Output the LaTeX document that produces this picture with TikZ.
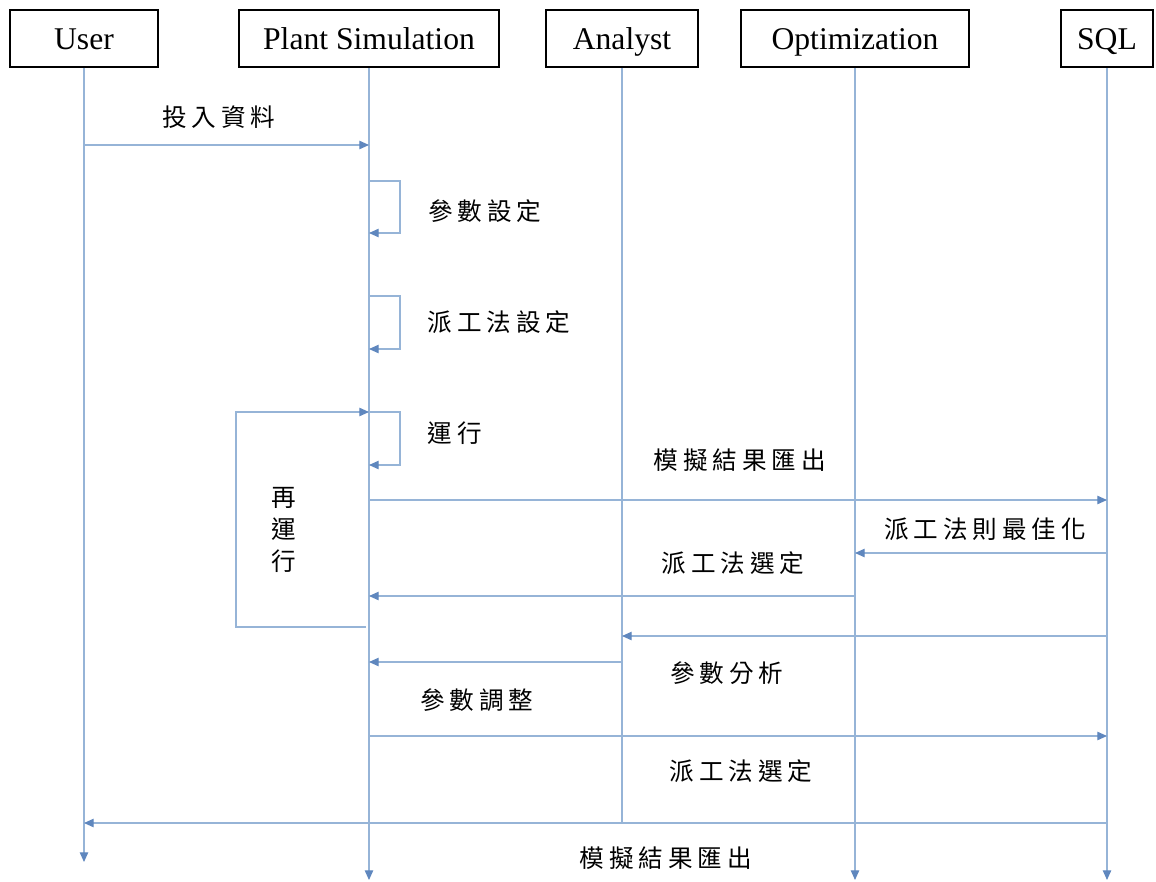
\documentclass[tikz,border=0pt]{standalone}
\usepackage{fontspec}
\setmainfont{Liberation Serif}
\newfontfamily\cjk[LetterSpace=20]{Noto Sans CJK TC}
\usetikzlibrary{arrows.meta}

\definecolor{lifeblue}{RGB}{150,180,215}
\definecolor{tipblue}{RGB}{95,135,190}

\begin{document}
\begin{tikzpicture}[
        x = 0.02cm, y = -0.02cm, % one unit = one pixel, y runs down
        > = {Triangle[length=5.5pt, width=4.8pt, color=tipblue]}, % arrow head style
        semithick % line style
      ]

      \tikzstyle{actor}=[rectangle, draw=black, line width=1.1pt, minimum height=1.14cm, text height=14pt, text depth=1.6pt, font=\fontsize{18}{20}\selectfont]
      \tikzstyle{life}=[draw=lifeblue, line width=0.65pt]
      \tikzstyle{msg}=[life, ->]
      \tikzstyle{note}=[font=\cjk\fontsize{14}{17}\selectfont, inner sep=2pt]

      \useasboundingbox (0,0) rectangle (1156,882);

      % actors
      \node[actor, minimum width=2.96cm] (user) at (84,38.5) {User};
      \node[actor, minimum width=5.2cm] (ps) at (369,38.5) {Plant Simulation};
      \node[actor, minimum width=3.04cm] (ana) at (622,38.5) {Analyst};
      \node[actor, minimum width=4.56cm] (opt) at (855,38.5) {Optimization};
      \node[actor, minimum width=1.84cm] (sql) at (1107,38.5) {SQL};

      % lifelines
      \coordinate (userEnd) at (84,862);
      \coordinate (psEnd) at (369,880);
      \coordinate (anaEnd) at (622,823);
      \coordinate (optEnd) at (855,880);
      \coordinate (sqlEnd) at (1107,880);
      \draw[msg] (user.south) -- (userEnd);
      \draw[msg] (ps.south) -- (psEnd);
      \draw[life] (ana.south) -- (anaEnd);
      \draw[msg] (opt.south) -- (optEnd);
      \draw[msg] (sql.south) -- (sqlEnd);

      % message rows
      \coordinate (m1) at (0,145);
      \coordinate (m2) at (0,500);
      \coordinate (m3) at (0,553);
      \coordinate (m4) at (0,596);
      \coordinate (m5) at (0,636);
      \coordinate (m6) at (0,662);
      \coordinate (m7) at (0,736);
      \coordinate (m8) at (0,823);

      % self calls
      \coordinate (s1a) at (400,181);
      \coordinate (s1b) at (400,233);
      \coordinate (s2a) at (400,296);
      \coordinate (s2b) at (400,349);
      \coordinate (s3a) at (400,412);
      \coordinate (s3b) at (400,465);
      \draw[msg] (ps |- s1a) -- (s1a) -- (s1b) -- (ps |- s1b);
      \draw[msg] (ps |- s2a) -- (s2a) -- (s2b) -- (ps |- s2b);
      \draw[msg] (ps |- s3a) -- (s3a) -- (s3b) -- (ps |- s3b);

      % rerun loop
      \coordinate (loopTop) at (236,412);
      \coordinate (loopBot) at (236,627);
      \draw[msg] ([xshift=-0.06cm]ps |- loopBot) -- (loopBot) -- (loopTop) -- (ps |- loopTop);

      % messages
      \draw[msg] (user |- m1) -- (ps |- m1);
      \draw[msg] (ps |- m2) -- (sql |- m2);
      \draw[msg] (sql |- m3) -- (opt |- m3);
      \draw[msg] (opt |- m4) -- (ps |- m4);
      \draw[msg] (sql |- m5) -- (ana |- m5);
      \draw[msg] (ana |- m6) -- (ps |- m6);
      \draw[msg] (ps |- m7) -- (sql |- m7);
      \draw[msg] (sql |- m8) -- (user |- m8);

      % labels
      \node[note] (l1) at (219,117) {投入資料};
      \node[note] (l2) at (485,211) {參數設定};
      \node[note] (l3) at (499,322) {派工法設定};
      \node[note] (l4) at (455,433) {運行};
      \node[note, align=center, font=\cjk\fontsize{14}{18}\selectfont] (l5) at (284,530) {再\\運\\行};
      \node[note] (l6) at (740,460) {模擬結果匯出};
      \node[note] (l7) at (985,529) {派工法則最佳化};
      \node[note] (l8) at (733,563) {派工法選定};
      \node[note] (l9) at (727,673) {參數分析};
      \node[note] (l10) at (477,700) {參數調整};
      \node[note] (l11) at (741,771) {派工法選定};
      \node[note] (l12) at (666,858) {模擬結果匯出};

    \end{tikzpicture}
\end{document}
